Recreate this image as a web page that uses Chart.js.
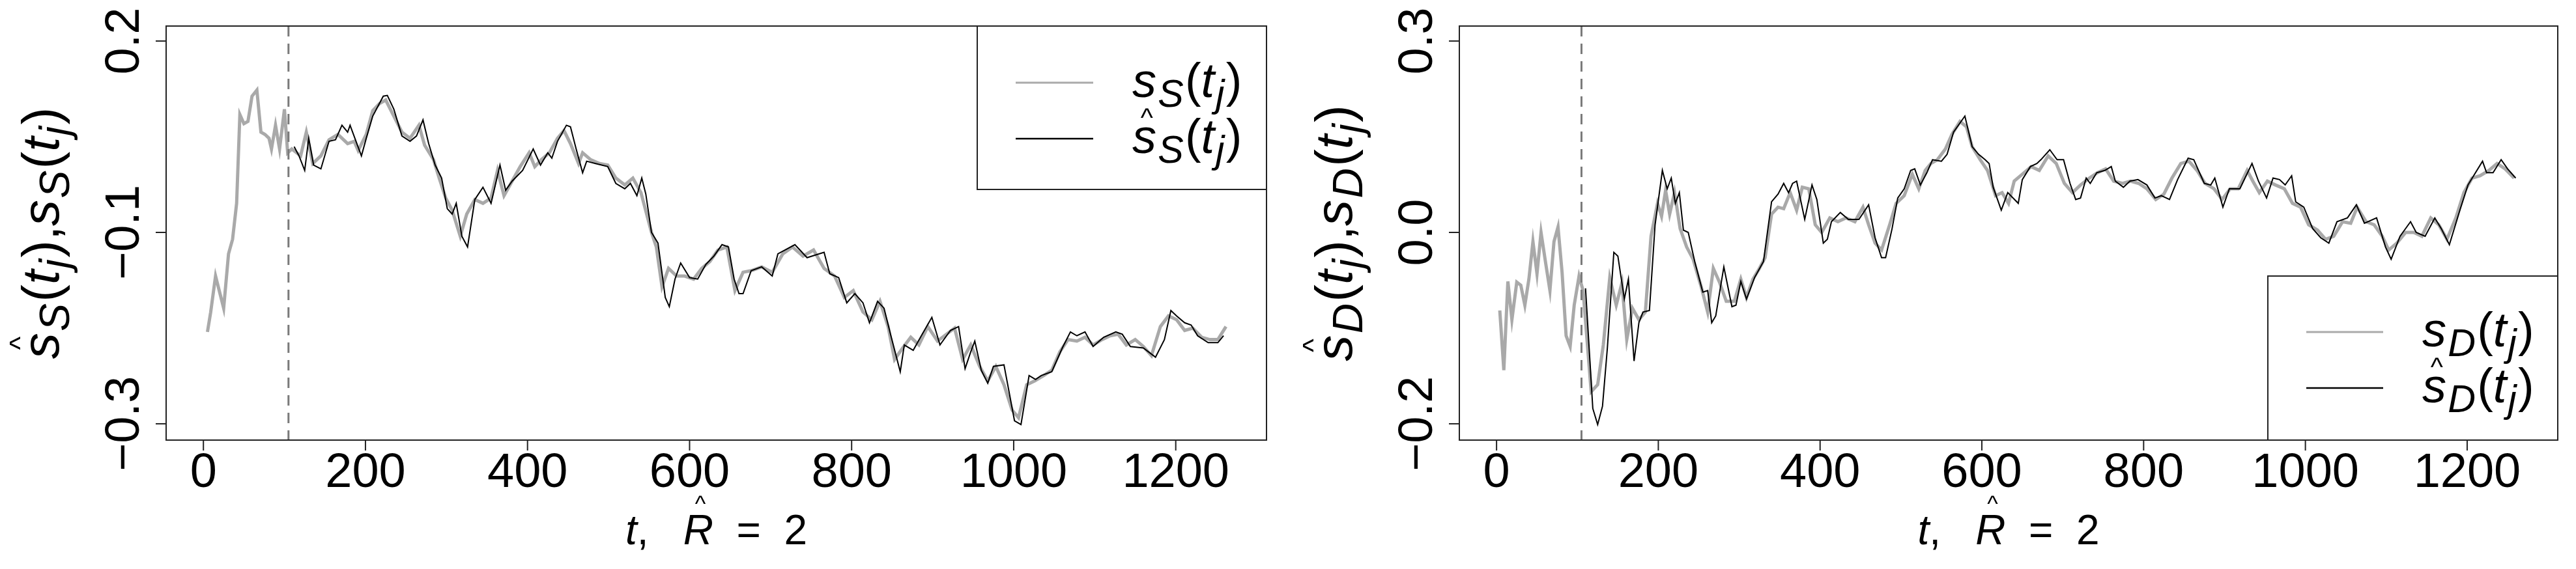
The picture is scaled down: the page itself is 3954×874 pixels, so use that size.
<!DOCTYPE html>
<html><head><meta charset="utf-8">
<script src="https://cdn.jsdelivr.net/npm/chart.js@4/dist/chart.umd.min.js"></script>
<style>html,body{margin:0;padding:0;background:#fff;width:3954px;height:874px;overflow:hidden}
.p{position:absolute;top:0;width:1977px;height:874px}</style></head>
<body>
<div class="p" style="left:0"><canvas id="c1"></canvas></div>
<div class="p" style="left:1977px"><canvas id="c2"></canvas></div>
<script>
// ---- data: left panel (S) ----
const tS=[5,9,15,25,31,36,41,45,50,55,60,66,71,76,81,84,89,94,100,104,109,120,127,135,145,155,166,178,186,191,201,209,217,225,235,245,255,266,273,284,291,299,307,317,325,335,345,355,363,371,381,391,402,409,417,427,437,445,453,463,468,478,489,499,509,520,530,540,553,559,566,574,584,594,605,615,625,635,646,656,666,676,689,702,715,727,740,753,766,779,791,802,814,825,835,845,853,863,873,883,894,906,917,927,937,947,958,968,978,988,998,1006,1016,1026,1037,1047,1057,1067,1078,1088,1098,1109,1119,1129,1139,1150,1160,1170,1181,1191,1201,1211,1221,1232,1242,1252,1262];
const sS=[-0.180,-0.154,-0.107,-0.149,-0.078,-0.059,-0.012,0.104,0.092,0.095,0.128,0.136,0.081,0.078,0.073,0.059,0.090,0.059,0.111,0.054,0.059,0.050,0.081,0.040,0.050,0.071,0.078,0.066,0.069,0.057,0.078,0.109,0.118,0.123,0.102,0.081,0.073,0.090,0.064,0.045,0.021,-0.005,-0.021,-0.055,-0.026,-0.007,-0.012,-0.005,0.031,-0.002,0.017,0.036,0.054,0.036,0.045,0.054,0.073,0.083,0.066,0.040,0.054,0.045,0.040,0.038,0.021,0.012,0.021,0.002,-0.050,-0.069,-0.121,-0.097,-0.107,-0.107,-0.111,-0.097,-0.088,-0.073,-0.069,-0.126,-0.102,-0.100,-0.095,-0.102,-0.078,-0.069,-0.081,-0.073,-0.097,-0.107,-0.135,-0.126,-0.154,-0.164,-0.140,-0.173,-0.216,-0.201,-0.187,-0.197,-0.173,-0.192,-0.183,-0.175,-0.216,-0.197,-0.225,-0.244,-0.225,-0.249,-0.282,-0.292,-0.249,-0.244,-0.237,-0.230,-0.206,-0.190,-0.192,-0.187,-0.197,-0.190,-0.185,-0.183,-0.197,-0.190,-0.199,-0.211,-0.173,-0.159,-0.164,-0.178,-0.175,-0.187,-0.190,-0.190,-0.173];
const tHatS=[112,118,125,130,136,145,155,163,171,178,181,195,201,209,222,227,235,245,255,263,271,278,286,294,301,307,312,319,326,335,345,355,366,373,381,394,407,416,425,430,437,448,453,460,468,473,484,499,509,520,527,535,541,546,553,561,570,575,582,589,600,610,620,630,640,648,655,661,666,676,689,702,709,730,745,766,773,784,794,804,814,822,832,840,848,860,865,876,886,899,909,922,932,940,947,952,960,968,975,988,1001,1009,1019,1027,1034,1047,1060,1070,1078,1088,1098,1111,1126,1134,1144,1160,1175,1186,1194,1201,1211,1219,1227,1240,1252,1259];
const hatS=[0.062,0.050,0.031,0.073,0.038,0.033,0.069,0.071,0.090,0.081,0.090,0.050,0.073,0.102,0.128,0.129,0.111,0.076,0.069,0.076,0.097,0.066,0.038,0.021,-0.019,-0.026,-0.012,-0.055,-0.069,-0.007,0.009,-0.012,0.038,0.005,0.017,0.031,0.059,0.038,0.054,0.047,0.069,0.090,0.088,0.059,0.028,0.043,0.040,0.036,0.014,0.007,0.014,-0.002,0.021,0.000,-0.050,-0.064,-0.135,-0.147,-0.111,-0.090,-0.109,-0.111,-0.092,-0.081,-0.066,-0.069,-0.111,-0.130,-0.130,-0.100,-0.095,-0.107,-0.078,-0.066,-0.083,-0.076,-0.104,-0.109,-0.142,-0.130,-0.142,-0.168,-0.140,-0.149,-0.183,-0.232,-0.197,-0.204,-0.185,-0.161,-0.197,-0.178,-0.173,-0.228,-0.206,-0.192,-0.230,-0.247,-0.225,-0.223,-0.296,-0.301,-0.237,-0.242,-0.237,-0.232,-0.201,-0.180,-0.185,-0.180,-0.199,-0.187,-0.180,-0.183,-0.199,-0.201,-0.213,-0.190,-0.152,-0.159,-0.168,-0.171,-0.185,-0.194,-0.194,-0.185];
// ---- data: right panel (D) ----
const tD=[4,9,14,19,25,30,35,40,45,50,55,61,66,71,76,81,86,91,96,102,107,112,117,125,132,140,148,155,161,168,176,184,191,199,204,209,214,220,227,235,243,253,261,268,276,284,294,302,309,317,325,332,340,348,355,363,371,378,386,394,402,412,422,432,443,453,460,468,476,486,494,504,514,522,530,537,545,555,563,573,581,588,598,607,617,625,633,640,650,661,671,682,692,702,712,722,733,743,753,763,774,784,794,804,815,825,835,846,856,866,876,887,897,907,917,928,935,943,953,963,974,984,994,1004,1015,1025,1035,1046,1056,1064,1075,1085,1095,1103,1113,1124,1134,1144,1155,1165,1175,1186,1196,1206,1216,1227,1237,1247,1258];
const sD=[-0.052,-0.130,-0.014,-0.064,-0.015,-0.019,-0.045,-0.011,0.038,-0.004,0.050,0.008,-0.026,0.038,0.057,-0.002,-0.085,-0.099,-0.045,-0.007,-0.026,-0.092,-0.158,-0.149,-0.097,-0.009,-0.045,-0.016,-0.090,-0.049,-0.064,-0.054,0.045,0.088,0.071,0.105,0.074,0.102,0.055,0.031,0.015,-0.021,-0.054,0.003,-0.016,-0.040,-0.040,-0.011,-0.035,-0.011,0.003,0.017,0.074,0.083,0.081,0.102,0.079,0.109,0.107,0.060,0.050,0.069,0.064,0.069,0.064,0.083,0.060,0.036,0.027,0.060,0.088,0.098,0.126,0.107,0.131,0.140,0.145,0.159,0.178,0.195,0.188,0.162,0.145,0.131,0.098,0.102,0.088,0.117,0.126,0.136,0.131,0.150,0.140,0.114,0.102,0.112,0.121,0.128,0.133,0.117,0.114,0.117,0.114,0.107,0.093,0.100,0.121,0.140,0.143,0.131,0.114,0.107,0.093,0.107,0.107,0.131,0.117,0.102,0.117,0.112,0.107,0.088,0.083,0.060,0.053,0.041,0.045,0.064,0.062,0.083,0.064,0.060,0.045,0.027,0.036,0.050,0.050,0.045,0.069,0.060,0.041,0.069,0.102,0.121,0.124,0.131,0.140,0.133,0.121];
const tHatD=[110,119,125,131,137,145,150,158,163,170,176,181,189,196,205,211,216,221,226,231,237,245,255,261,266,271,281,286,291,296,302,309,319,330,340,348,355,361,366,371,381,390,396,404,409,414,425,435,448,460,468,476,481,489,496,504,512,517,524,532,539,550,557,565,579,588,596,604,609,614,624,632,645,650,660,668,673,684,693,701,709,716,722,729,734,742,752,760,765,775,783,793,804,814,822,832,842,855,862,875,883,888,898,906,919,934,942,952,960,968,975,983,988,998,1009,1019,1029,1039,1052,1063,1073,1088,1099,1106,1117,1130,1137,1148,1160,1168,1178,1191,1201,1219,1224,1232,1242,1250,1260];
const hatD=[-0.023,-0.180,-0.201,-0.177,-0.101,0.024,0.019,-0.037,-0.011,-0.118,-0.068,-0.054,-0.052,0.060,0.131,0.107,0.121,0.088,0.102,0.053,0.050,0.012,-0.028,-0.026,-0.068,-0.059,0.005,-0.021,-0.047,-0.045,-0.014,-0.037,-0.009,0.012,0.090,0.100,0.114,0.102,0.114,0.117,0.067,0.112,0.093,0.036,0.041,0.064,0.076,0.067,0.067,0.086,0.043,0.017,0.017,0.055,0.095,0.107,0.131,0.133,0.112,0.128,0.145,0.143,0.152,0.181,0.202,0.162,0.152,0.145,0.140,0.109,0.079,0.102,0.088,0.119,0.136,0.140,0.145,0.158,0.145,0.145,0.114,0.093,0.095,0.121,0.114,0.128,0.131,0.136,0.117,0.109,0.117,0.119,0.112,0.095,0.098,0.093,0.119,0.147,0.145,0.114,0.112,0.121,0.083,0.107,0.107,0.140,0.117,0.095,0.121,0.119,0.112,0.124,0.090,0.083,0.055,0.043,0.036,0.064,0.069,0.086,0.062,0.069,0.031,0.015,0.045,0.064,0.050,0.045,0.069,0.055,0.034,0.079,0.112,0.143,0.128,0.128,0.145,0.133,0.121];
// ---- tick labels ----
const xTicks=[0,200,400,600,800,1000,1200];
const yTicksS=[0.2,-0.05,-0.3], yLabelsS=['0.2','\u22120.1','\u22120.3'];
const yTicksD=[0.3,0.05,-0.2], yLabelsD=['0.3','0.0','\u22120.2'];
const cutT=105;

const FONT='"Liberation Sans", Arial, sans-serif';
function rich(ctx,segs,x,y,size,align){
  let w=0;const m=[];
  for(const s of segs){const fs=s[2]?size*0.8:size;ctx.font=(s[1]?'italic ':'')+fs+'px '+FONT;const ww=ctx.measureText(s[0]).width+(s[2]?size*0.06:0);m.push([fs,ww]);w+=ww;}
  let cx=align==='center'?x-w/2:x;
  ctx.textBaseline='alphabetic';ctx.textAlign='left';
  segs.forEach((s,i)=>{const [fs,ww]=m[i];ctx.font=(s[1]?'italic ':'')+fs+'px '+FONT;
    const yy=s[2]?y+size*0.2:y;ctx.fillText(s[0],cx+(s[2]?size*0.03:0),yy);
    if(s[3]){ctx.font=(size*0.55)+'px '+FONT;ctx.textAlign='center';ctx.fillText('^',cx+ww/2+size*0.05,yy-size*(s[0]==='R'?0.78:0.55));ctx.textAlign='left';}
    cx+=ww;});
}
function lab(sym,hat){return [['s',true,false,hat],[sym,true,true],['(',false,false],['t',true,false],['j',true,true],[')',false,false]];}

function makePanel(id,tG,vG,tB,vB,ymin,ymax,yT,yL,sym,padL,padR,legend){
  const deco={id:'deco',afterDraw(ch){
    const c=ch.ctx,a=ch.chartArea,xs=ch.scales.x,ys=ch.scales.y;
    c.save();
    c.strokeStyle='#7a7a7a';c.lineWidth=3;c.setLineDash([16,11]);
    const xc=xs.getPixelForValue(cutT);c.beginPath();c.moveTo(xc,a.top);c.lineTo(xc,a.bottom);c.stroke();c.setLineDash([]);
    c.strokeStyle='#222';c.lineWidth=2;c.strokeRect(a.left,a.top,a.right-a.left,a.bottom-a.top);
    c.fillStyle='#000';c.font='74px '+FONT;c.textAlign='center';c.textBaseline='middle';
    for(const t of xTicks){const p=xs.getPixelForValue(t);c.beginPath();c.moveTo(p,a.bottom);c.lineTo(p,a.bottom+16);c.stroke();c.fillText(String(t),p,a.bottom+52);}
    yT.forEach((v,i)=>{const p=ys.getPixelForValue(v);c.beginPath();c.moveTo(a.left,p);c.lineTo(a.left-16,p);c.stroke();
      c.save();c.translate(a.left-62,p);c.rotate(-Math.PI/2);c.textAlign='center';c.textBaseline='middle';c.font='74px '+FONT;c.fillText(yL[i],0,0);c.restore();});
    rich(c,[['t',true],[',   ',false],['R',true,false,true],['  =  2',false]],(a.left+a.right)/2,a.bottom+160,64,'center');
    c.save();c.translate(a.left-165,(a.top+a.bottom)/2);c.rotate(-Math.PI/2);
    rich(c,lab(sym,true).concat([[',',false]]).concat(lab(sym,false)),0,0,80,'center');c.restore();
    const L=legend;c.lineWidth=2;c.strokeStyle='#222';c.fillStyle='#fff';
    c.fillRect(L.x1,L.y1,L.x2-L.x1,L.y2-L.y1);c.strokeRect(L.x1,L.y1,L.x2-L.x1,L.y2-L.y1);
    c.strokeStyle='#aaaaaa';c.lineWidth=3;c.beginPath();c.moveTo(L.lx1,L.e1);c.lineTo(L.lx2,L.e1);c.stroke();
    c.strokeStyle='#000';c.lineWidth=2.5;c.beginPath();c.moveTo(L.lx1,L.e2);c.lineTo(L.lx2,L.e2);c.stroke();
    c.fillStyle='#000';rich(c,lab(sym,false),L.tx,L.e1+22,74,'left');rich(c,lab(sym,true),L.tx,L.e2+22,74,'left');
    c.restore();}};
  new Chart(document.getElementById(id),{type:'line',
    data:{datasets:[
      {label:'hat',data:tB.map((t,i)=>({x:t,y:vB[i]})),borderColor:'#000',borderWidth:2,pointRadius:0,tension:0,order:0},
      {label:'s',data:tG.map((t,i)=>({x:t,y:vG[i]})),borderColor:'#a9a9a9',borderWidth:5,pointRadius:0,tension:0,order:1}]},
    options:{responsive:false,animation:false,devicePixelRatio:1,
      layout:{padding:{left:padL,right:padR,top:40,bottom:198}},
      plugins:{legend:{display:false},tooltip:{enabled:false}},
      scales:{x:{type:'linear',min:-46,max:1312,display:false},y:{min:ymin,max:ymax,display:false}}},
    plugins:[deco]});
}
for(const id of ['c1','c2']){const cv=document.getElementById(id);cv.width=1977;cv.height=874;cv.style.width='1977px';cv.style.height='874px';}
makePanel('c1',tS,sS,tHatS,hatS,-0.3213,0.2196,yTicksS,yLabelsS,'S',255,33,
  {x1:1500,y1:40,x2:1944,y2:291,lx1:1559,lx2:1678,tx:1738,e1:127,e2:213});
makePanel('c2',tD,sD,tHatD,hatD,-0.2213,0.3196,yTicksD,yLabelsD,'D',263,28,
  {x1:3481-1977,y1:424,x2:1949,y2:676,lx1:3540-1977,lx2:3658-1977,tx:3718-1977,e1:510,e2:596});
</script></body></html>
